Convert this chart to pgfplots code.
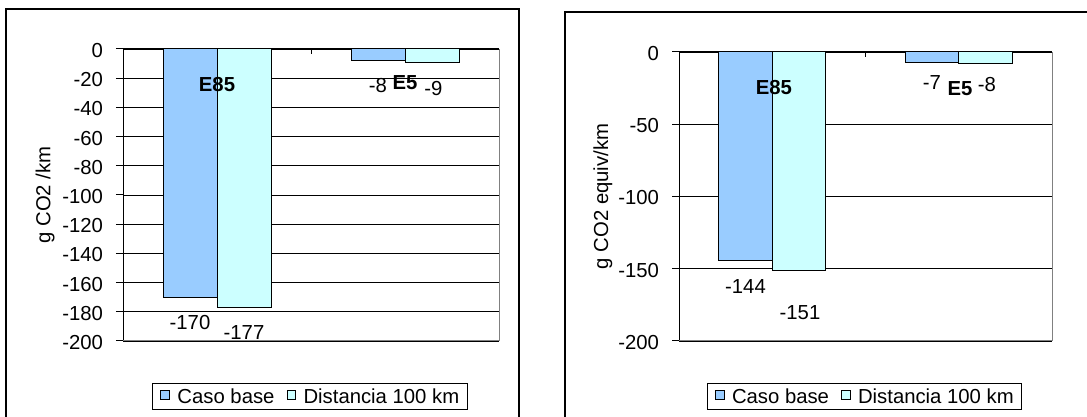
\documentclass[border=0pt]{standalone}
\usepackage{fontspec}
\setmainfont{Liberation Sans}
\usepackage{pgfplots}
\pgfplotsset{compat=1.18}
\usepackage{pgfplotstable}
\definecolor{baseC}{RGB}{153,204,255}
\definecolor{distC}{RGB}{204,255,255}
\definecolor{borderC}{RGB}{128,128,128}

\pgfplotstableread{
x y lab dy dx
0.5 -170 -170 -25 0
1.5 -8 -8 -25 0
}\leftbase
\pgfplotstableread{
x y lab dy dx
0.5 -177 -177 -25 0
1.5 -9 -9 -26 1.5
}\leftdist
\pgfplotstableread{
x y lab dy dx
0.5 -144 -144 -26 0
1.5 -7 -7 -20 0
}\rightbase
\pgfplotstableread{
x y lab dy dx
0.5 -151 -151 -42 1
1.5 -8 -8 -21 1.5
}\rightdist

\pgfplotsset{
  mybars/.style={
    scale only axis, enlargelimits=false,
    xmin=0, xmax=2, ymin=-200, ymax=0,
    axis x line=none, axis y line*=left,
    y axis line style={black, line width=1pt},
    ytick style={black, line width=1pt},
    major tick length=7pt, tick align=outside,
    yticklabel style={xshift=-9.5pt, yshift=-1.5pt},
    ymajorgrids, major grid style={black, line width=0.9pt},
    xtick=\empty,
    ybar, clip=false,
    nodes near coords, point meta=explicit symbolic,
    visualization depends on={\thisrow{dy} \as \dy},
    visualization depends on={\thisrow{dx} \as \dx},
    every node near coord/.append style={anchor=center, yshift=\dy, xshift=\dx, text=black},
    legend columns=2,
    legend style={draw=black, line width=1pt, anchor=center,
      inner xsep=8pt, inner ysep=3pt,
      nodes={inner xsep=0pt, inner ysep=2pt},
      /tikz/every even column/.append style={column sep=12pt}},
    legend image code/.code={\path (0pt,0pt) (16pt,0pt);
      \draw[#1,line width=1pt] (0pt,-3pt) rectangle (8.5pt,5.5pt);},
  }
}

\begin{document}
\begin{tikzpicture}[x=1pt,y=1pt,font=\fontsize{20.3}{24}\selectfont]
\useasboundingbox (0,0) rectangle (1087,417);
% outer frames
\draw[line width=1.2pt] (6,-20) -- (6,408) -- (519,408) -- (519,-20);
\draw[line width=1.2pt] (565,-20) -- (565,405) -- (1100,405);

% left chart
\begin{axis}[mybars, at={(123pt,76pt)}, anchor=south west,
  width=376pt, height=292pt,
  ytick={-200,-180,...,0},
  yticklabels={-200,-180,-160,-140,-120,-100,-80,-60,-40,-20,0},
  ylabel={g CO2 /km},
  every axis y label/.style={at={(axis description cs:-0.2074,0.5)}, rotate=90, anchor=center},
  legend style={at={(0.497,-0.190)}},
]
\addplot[fill=baseC, draw=black, line width=1pt, bar width=54pt, bar shift=-27pt]
  table[x=x, y=y, meta=lab] {\leftbase};
\addplot[fill=distC, draw=black, line width=1pt, bar width=54pt, bar shift=27pt]
  table[x=x, y=y, meta=lab] {\leftdist};
\legend{Caso base, Distancia 100 km}
\draw[borderC, line width=1pt] (axis cs:0,-200) -- (axis cs:2,-200) -- (axis cs:2,0);
\draw[black, line width=1pt] (axis cs:0,0) -- (axis cs:2,0);
\draw[black, line width=1pt] (axis cs:1,0) -- (axis cs:1,-3.4);
\node[font=\fontsize{20.3}{24}\selectfont\bfseries] at (axis cs:0.5,-24) {E85};
\node[font=\fontsize{20.3}{24}\selectfont\bfseries] at (axis cs:1.5,-23.3) {E5};
\end{axis}

% right chart
\begin{axis}[mybars, at={(679pt,76pt)}, anchor=south west,
  width=373pt, height=289pt,
  ytick={-200,-150,...,0},
  yticklabels={-200,-150,-100,-50,0},
  ylabel={g CO2 equiv/km},
  every axis y label/.style={at={(axis description cs:-0.2038,0.5)}, rotate=90, anchor=center},
  legend style={at={(0.497,-0.192)}},
]
\addplot[fill=baseC, draw=black, line width=1pt, bar width=53.5pt, bar shift=-26.75pt]
  table[x=x, y=y, meta=lab] {\rightbase};
\addplot[fill=distC, draw=black, line width=1pt, bar width=53.5pt, bar shift=26.75pt]
  table[x=x, y=y, meta=lab] {\rightdist};
\legend{Caso base, Distancia 100 km}
\draw[borderC, line width=1pt] (axis cs:0,-200) -- (axis cs:2,-200) -- (axis cs:2,0);
\draw[black, line width=1pt] (axis cs:0,0) -- (axis cs:2,0);
\draw[black, line width=1pt] (axis cs:1,0) -- (axis cs:1,-3.5);
\node[font=\fontsize{20.3}{24}\selectfont\bfseries] at (axis cs:0.509,-24.9) {E85};
\node[font=\fontsize{20.3}{24}\selectfont\bfseries] at (axis cs:1.507,-25) {E5};
\end{axis}
\end{tikzpicture}
\end{document}
